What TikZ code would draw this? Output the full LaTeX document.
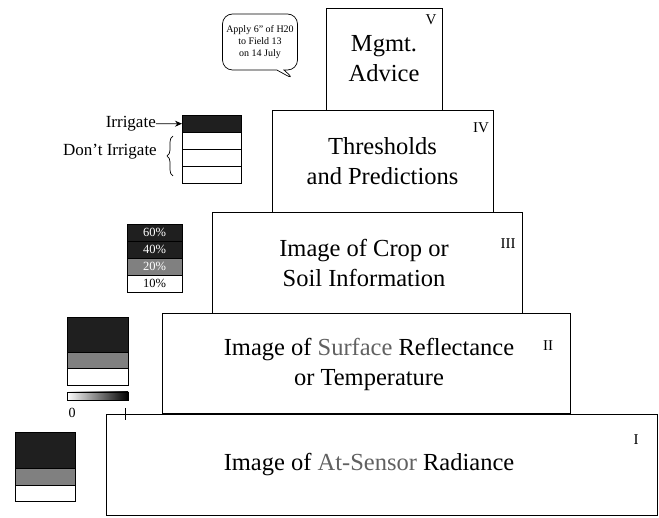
\documentclass[tikz,border=0pt]{standalone}
\usepackage{fontspec}
\setmainfont{Liberation Serif}
\usetikzlibrary{arrows.meta,positioning,shapes.callouts,decorations.pathreplacing}
\newcommand\liteword[1]{\textcolor{black!62}{#1}}

\begin{document}
\begin{tikzpicture}[
  x=1pt, y=-1pt,
  >={Stealth[length=7pt,width=6pt]},
  every node/.style={align=center},
  tier/.style={draw, line width=0.8pt, inner sep=0pt, font=\fontsize{24.5}{30}\selectfont},
  level/.style={font=\fontsize{15}{15}\selectfont, inner sep=0pt},
  band/.style={draw, line width=0.7pt, inner sep=0pt, outer sep=0pt, minimum height=17pt, font=\fontsize{12.5}{12.5}\selectfont},
  dark/.style={band, fill=black!88, text=white},
  grainy/.style={band, fill=black!50, text=white},
  side/.style={font=\fontsize{17}{17}\selectfont, inner sep=1pt},
]
  \useasboundingbox (0,0) rectangle (659,518);

  % the five tiers of the pyramid
  \node[tier, minimum width=116pt, minimum height=102pt] (advice) at (384,59) {Mgmt.\\Advice};
  \node[tier, minimum width=221pt, minimum height=102pt] (thresh) at (382.5,161) {Thresholds\\and Predictions};
  \node[tier, minimum width=310pt, minimum height=101pt] (crop) at (367,262.5) {};
  \node[font=\fontsize{24.5}{30}\selectfont, inner sep=0pt] (croptxt) at (364,263) {Image of Crop or\\Soil Information};
  \node[tier, minimum width=408pt, minimum height=100pt] (refl) at (366,363) {};
  \node[font=\fontsize{24.5}{30}\selectfont, inner sep=0pt] (refltxt) at (369,364) {Image of \liteword{Surface} Reflectance\\or Temperature};
  \node[tier, minimum width=551pt, minimum height=101pt] (rad) at (381.5,464.5) {};
  \node[font=\fontsize{24.5}{30}\selectfont, inner sep=0pt] (radtxt) at (369,465) {Image of \liteword{At-Sensor} Radiance};

  \node[level] (lv5) at (431,20)  {V};
  \node[level] (lv4) at (481,128) {IV};
  \node[level] (lv3) at (508,244) {III};
  \node[level] (lv2) at (548,346) {II};
  \node[level] (lv1) at (636,440) {I};

  % advice bubble
  \node[rectangle callout, draw, rounded corners=10pt, line width=0.7pt,
        minimum width=75pt, minimum height=56pt, inner sep=2pt,
        font=\fontsize{10}{12}\selectfont,
        callout absolute pointer={(295,80)}] (bubble) at (260,42)
       {Apply 6'' of H20\\to Field 13\\on 14 July};

  % legend IV
  \node[dark, minimum width=59pt] (irr) at (211.5,123.5) {};
  \node[band, minimum width=59pt, below=0pt of irr] (dont1) {};
  \node[band, minimum width=59pt, below=0pt of dont1] (dont2) {};
  \node[band, minimum width=59pt, below=0pt of dont2] (dont3) {};
  \node[side, anchor=east, inner xsep=0pt] (irrtxt) at (156,124) {Irrigate};
  \draw[->, line width=0.8pt] (irrtxt) -- (irr);
  \node[side, anchor=east] (donttxt) at (158,152) {Don't Irrigate};
  \draw[decorate, decoration={brace, amplitude=6pt}, line width=0.7pt]
    ([xshift=-9pt, yshift=7pt]dont3.south west) -- ([xshift=-9pt, yshift=-4pt]dont1.north west);

  % legend III
  \node[dark, minimum width=55pt] (p60) at (154.5,232.5) {60\%};
  \node[dark, minimum width=55pt, below=0pt of p60] (p40) {40\%};
  \node[grainy, minimum width=55pt, below=0pt of p40] (p20) {20\%};
  \node[band, minimum width=55pt, below=0pt of p20] (p10) {10\%};

  % legend II
  \node[dark, minimum width=61pt, minimum height=35pt] (r2dark) at (97.5,334.5) {};
  \node[grainy, minimum width=61pt, minimum height=16pt, below=0pt of r2dark] (r2gray) {};
  \node[band, minimum width=61pt, below=0pt of r2gray] (r2white) {};
  \node[band, minimum width=61pt, minimum height=8pt, left color=white, right color=black,
        below=7pt of r2white] (ramp) {};
  \node[font=\fontsize{14}{14}\selectfont, inner sep=0pt] (zero) at (72,413) {0};
  \coordinate (tick) at (125,414);
  \draw[line width=0.7pt] ([yshift=6pt]tick) -- ([yshift=-6pt]tick);

  % legend I
  \node[dark, minimum width=60pt, minimum height=36pt] (r1dark) at (45,450) {};
  \node[grainy, minimum width=60pt, below=0pt of r1dark] (r1gray) {};
  \node[band, minimum width=60pt, minimum height=16pt, below=0pt of r1gray] (r1white) {};
\end{tikzpicture}
\end{document}
